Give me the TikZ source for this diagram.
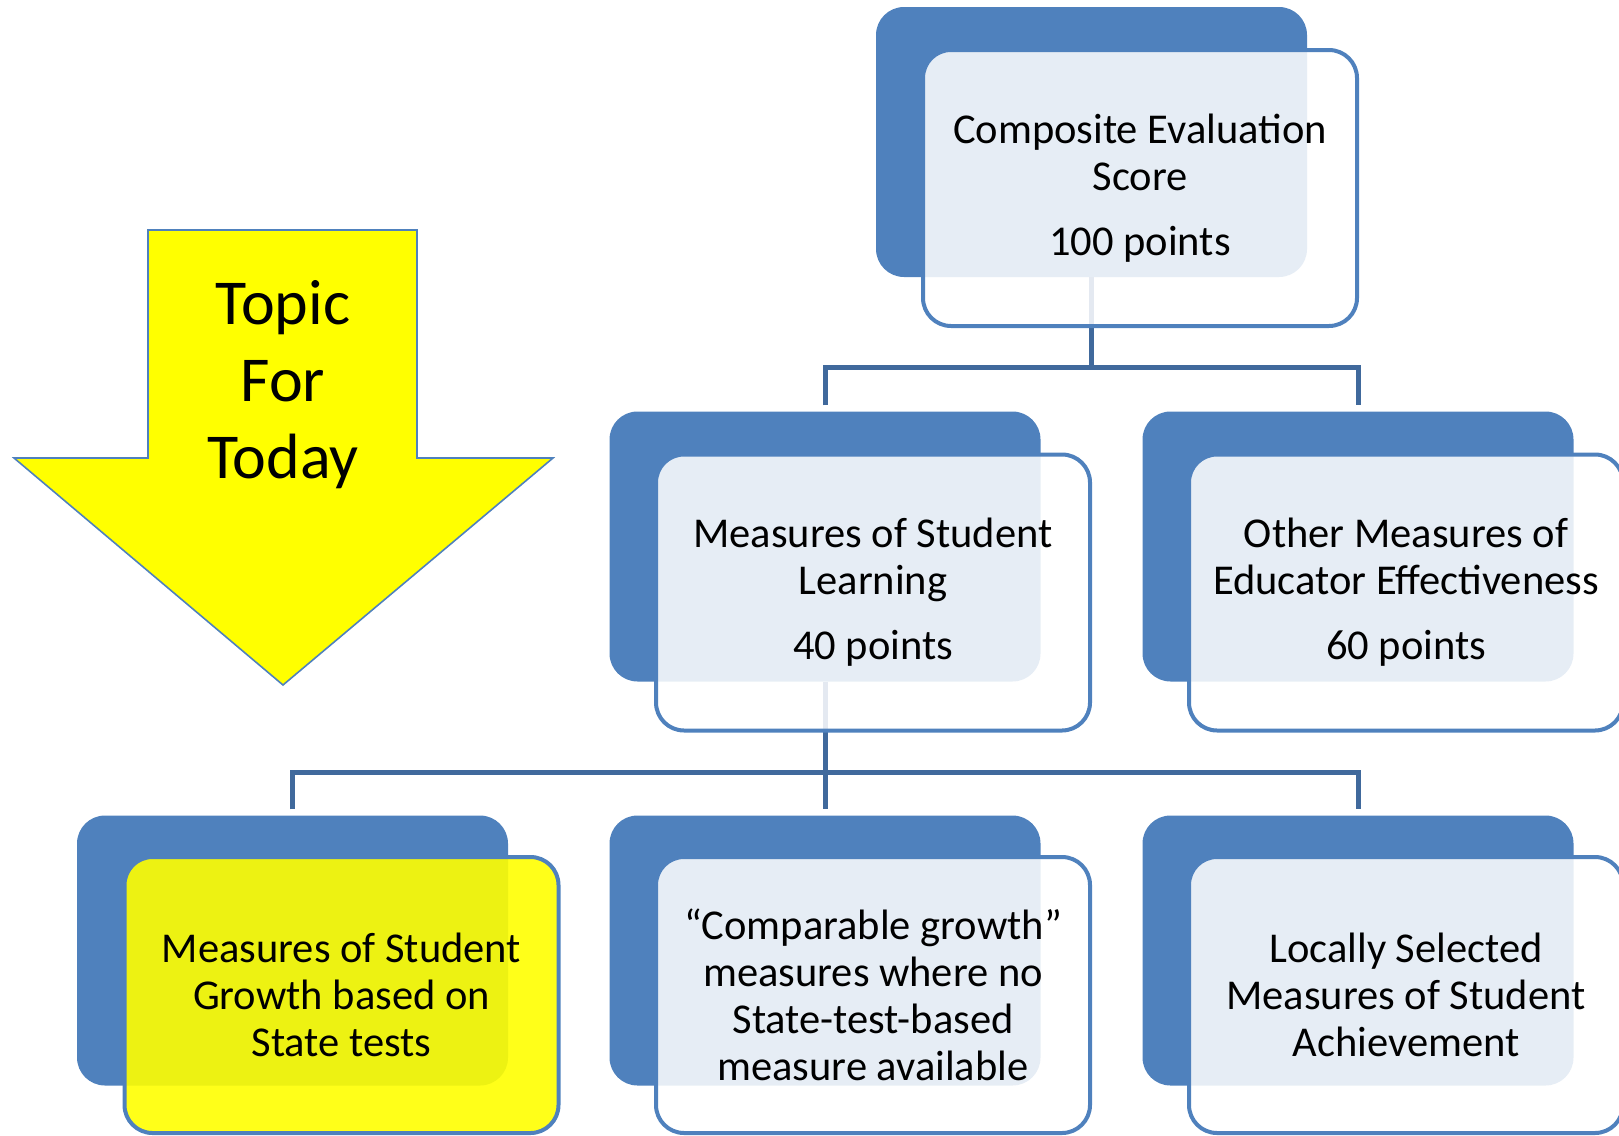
\documentclass[tikz,border=0pt]{standalone}
\usepackage{fontspec}
\setmainfont{Carlito}
\definecolor{ublue}{RGB}{79,129,189}
\definecolor{cblue}{RGB}{64,105,156}
\definecolor{uyellow}{RGB}{255,255,0}
\begin{document}
\begin{tikzpicture}[x=1pt,y=-1pt,
  backbox/.style={rectangle, rounded corners=28pt, fill=ublue, draw=none, minimum width=431pt, minimum height=270pt, inner sep=0pt},
  frontbox/.style={rectangle, rounded corners=28pt, draw=ublue, line width=4pt, fill=white, fill opacity=0.86, text opacity=1, minimum width=434pt, minimum height=276pt, align=center, inner sep=0pt, font=\fontsize{42.5}{47}\selectfont},
  yellowbox/.style={frontbox, fill=uyellow, fill opacity=0.9},
  conn/.style={draw=cblue, line width=5pt},
  arrowshape/.style={fill=uyellow, draw=ublue, line width=1.6pt, line join=miter},
  arrowtext/.style={align=center, font=\fontsize{64}{77}\selectfont, inner sep=0pt}
]
\useasboundingbox (0,0) rectangle (1619,1135);
\clip (0,0) rectangle (1619,1135);

% yellow arrow
\draw[arrowshape] (148,230) -- (417,230) -- (417,458) -- (553,458) -- (283,685) -- (14,458) -- (148,458) -- cycle;
\node[arrowtext] (topic) at (283,385) {Topic\\For\\Today};

% back boxes
\node[backbox] (bt)  at (1091.5,142) {};
\node[backbox] (bm1) at (825,546.5) {};
\node[backbox] (bm2) at (1358,546.5) {};
\node[backbox] (bb1) at (292.5,950.5) {};
\node[backbox] (bb2) at (825,950.5) {};
\node[backbox] (bb3) at (1358,950.5) {};

% connectors
\coordinate (h1) at (1091.5,367);
\coordinate (h2) at (825,772);
\draw[conn] (bt.south) -- (h1);
\draw[conn] ([yshift=6pt]bm1.north) |- (h1) -| ([yshift=6pt]bm2.north);
\draw[conn] (bm1.south) -- ([yshift=6pt]bb2.north);
\draw[conn] ([yshift=6pt]bb1.north) |- (h2) -| ([yshift=6pt]bb3.north);

% front boxes
\node[frontbox] (ft) at (1140,188) {Composite Evaluation\\Score\\[18pt]100 points};
\node[frontbox] (fm1) at (873,592.5) {Measures of Student\\Learning\\[18pt]40 points};
\node[frontbox] (fm2) at (1406,592.5) {Other Measures of\\Educator Effectiveness\\[18pt]60 points};
\node[yellowbox] (fb1) at (341.5,995) {Measures of Student\\Growth based on\\State tests};
\node[frontbox] (fb2) at (873,995) {“Comparable growth”\\measures where no\\State-test-based\\measure available};
\node[frontbox] (fb3) at (1406,995) {Locally Selected\\Measures of Student\\Achievement};
\end{tikzpicture}
\end{document}
